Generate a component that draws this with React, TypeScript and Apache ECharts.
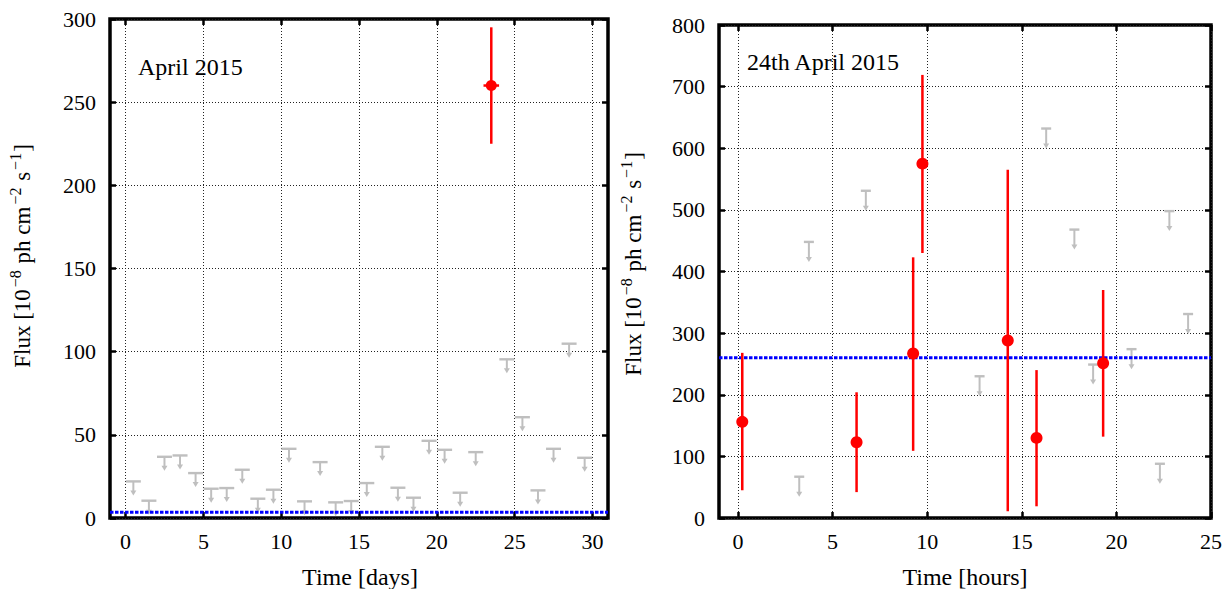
import React, { useEffect, useRef } from "react";
import * as echarts from "echarts";

// ---------- data: left panel (April 2015, days) ----------
const monthULTime = [0.5, 1.5, 2.5, 3.5, 4.5, 5.5, 6.5, 7.5, 8.5, 9.5, 10.5, 11.5, 12.5, 13.5, 14.5, 15.5, 16.5, 17.5, 18.5, 19.5, 20.5, 21.5, 22.5, 24.5, 25.5, 26.5, 27.5, 28.5, 29.5];
const monthULFlux = [22, 10.4, 36.8, 37.6, 27, 17.6, 18, 29, 11.6, 17, 41.6, 10, 33.6, 9.4, 10.2, 21, 42.8, 18.2, 12.2, 46.4, 41, 15.2, 39.6, 95.4, 60.6, 16.6, 41.6, 104.8, 36.2];
const monthDetTime = [23.5];
const monthDetFlux = [260];
const monthDetLo = [225];
const monthDetHi = [295];
const monthDetHalfWidth = [0.5];
const monthMean = 3.5;

// ---------- data: right panel (24th April 2015, hours) ----------
const dayULTime = [3.24, 3.75, 6.76, 12.77, 16.29, 17.78, 18.77, 20.8, 22.3, 22.8, 23.79];
const dayULFlux = [67, 448, 531, 230, 632, 468, 249, 274, 88, 498, 331];
const dayDetTime = [0.23, 6.27, 9.26, 9.75, 14.26, 15.78, 19.3];
const dayDetFlux = [156, 123, 267, 575, 288, 130, 251];
const dayDetLo = [45, 42, 109, 430, 11, 19, 132];
const dayDetHi = [268, 204, 423, 719, 565, 240, 370];
const dayMean = 260;

// ---------- tick labels ----------
const monthXTicks = [0, 5, 10, 15, 20, 25, 30];
const dayXTicks = [0, 5, 10, 15, 20, 25];

const FONT = "Liberation Serif";
const GREY = "#bfbfbf";
const RED = "#ff0000";
const BLUE = "#0000ff";

function ulRender(w: number, h: number) {
  return (_params: any, api: any) => {
    const p = api.coord([api.value(0), api.value(1)]);
    const x = p[0];
    const y = p[1];
    return {
      type: "group",
      children: [
        { type: "line", shape: { x1: x - w / 2, y1: y, x2: x + w / 2, y2: y }, style: { stroke: GREY, lineWidth: 2.4 } },
        { type: "line", shape: { x1: x, y1: y, x2: x, y2: y + h - 4 }, style: { stroke: GREY, lineWidth: 2 } },
        { type: "polygon", shape: { points: [[x - 3, y + h - 5], [x + 3, y + h - 5], [x, y + h]] }, style: { fill: GREY } },
      ],
    };
  };
}

function errRender(_params: any, api: any) {
  const t = api.value(0);
  const f = api.value(1);
  const lo = api.coord([t, api.value(2)]);
  const hi = api.coord([t, api.value(3)]);
  const dt = api.value(4);
  const children: any[] = [
    { type: "line", shape: { x1: lo[0], y1: lo[1], x2: hi[0], y2: hi[1] }, style: { stroke: RED, lineWidth: 2.5 } },
  ];
  if (dt > 0) {
    const a = api.coord([t - dt, f]);
    const b = api.coord([t + dt, f]);
    children.push({ type: "line", shape: { x1: a[0], y1: a[1], x2: b[0], y2: b[1] }, style: { stroke: RED, lineWidth: 2.5 } });
  }
  return { type: "group", children };
}

const labelStyle = { color: "#000", fontFamily: FONT, fontSize: 22, fontWeight: "normal" as const };

function xAxes(gridIndex: number, min: number, max: number, ticks: number[]) {
  const tickStyle = { show: true, inside: true, length: 6, lineStyle: { color: "#000", width: 2.5 }, customValues: ticks };
  return [
    {
      type: "value", gridIndex, min, max, position: "bottom",
      axisLine: { show: false, onZero: false },
      axisTick: tickStyle,
      axisLabel: {
        ...labelStyle, customValues: ticks, margin: 12,
        formatter: (v: number) => (ticks.indexOf(v) >= 0 ? String(v) : ""),
      },
      splitLine: { show: true, lineStyle: { color: "#222", width: 1, type: [1, 2] } },
    },
    {
      type: "value", gridIndex, min, max, position: "top",
      axisLine: { show: false, onZero: false },
      axisTick: tickStyle,
      axisLabel: { show: false, customValues: ticks },
      splitLine: { show: false },
    },
  ];
}

function yAxes(gridIndex: number, max: number, interval: number) {
  const tickStyle = { show: true, inside: true, length: 6, lineStyle: { color: "#000", width: 2.5 } };
  return [
    {
      type: "value", gridIndex, min: 0, max, interval, position: "left",
      axisLine: { show: false, onZero: false },
      axisTick: tickStyle,
      axisLabel: { ...labelStyle, margin: 14 },
      splitLine: { show: true, lineStyle: { color: "#222", width: 1, type: [1, 2] } },
    },
    {
      type: "value", gridIndex, min: 0, max, interval, position: "right",
      axisLine: { show: false, onZero: false },
      axisTick: tickStyle,
      axisLabel: { show: false },
      splitLine: { show: false },
    },
  ];
}

const yTitle = "{a|Flux [10}{s|\u22128}{a| ph cm}{s|\u22122}{a| s}{s|\u22121}{a|]}";
const yTitleRich = {
  a: { fontSize: 23, fontFamily: FONT, fill: "#000", color: "#000", lineHeight: 30 },
  s: { fontSize: 16, fontFamily: FONT, fill: "#000", color: "#000", lineHeight: 16, verticalAlign: "top", padding: [0, 1, 0, 2] },
};

function txt(x: number, y: number, text: string, align: string) {
  return {
    type: "text", x, y,
    style: {
      text, font: "24px 'Liberation Serif'", fontFamily: FONT, fontSize: 24, fill: "#000",
      textAlign: align, align, textVerticalAlign: "middle", verticalAlign: "middle",
    },
  };
}

export default function App() {
  const ref = useRef<HTMLDivElement>(null);
  useEffect(() => {
    if (!ref.current) return;
    const chart = echarts.init(ref.current, undefined, { renderer: "svg" });
    const monthUL = monthULTime.map((t, i) => [t, monthULFlux[i]]);
    const dayUL = dayULTime.map((t, i) => [t, dayULFlux[i]]);
    const monthErr = monthDetTime.map((t, i) => [t, monthDetFlux[i], monthDetLo[i], monthDetHi[i], monthDetHalfWidth[i]]);
    const dayErr = dayDetTime.map((t, i) => [t, dayDetFlux[i], dayDetLo[i], dayDetHi[i], 0]);

    chart.setOption({
      animation: false,
      backgroundColor: "#fff",
      textStyle: { fontFamily: FONT },
      grid: [
        { left: 110, right: 619, top: 19, bottom: 71, show: true, borderColor: "#000", borderWidth: 3.5, backgroundColor: "transparent" },
        { left: 719, right: 16, top: 25, bottom: 71, show: true, borderColor: "#000", borderWidth: 3.5, backgroundColor: "transparent" },
      ],
      xAxis: [...xAxes(0, -1, 31, monthXTicks), ...xAxes(1, -1, 25, dayXTicks)],
      yAxis: [...yAxes(0, 300, 50), ...yAxes(1, 800, 100)],
      graphic: [
        txt(138, 67, "April 2015", "left"),
        txt(747, 62, "24th April 2015", "left"),
        txt(360, 577, "Time [days]", "center"),
        txt(965, 577, "Time [hours]", "center"),
        { type: "text", x: 22, y: 256, rotation: Math.PI / 2, style: { text: yTitle, rich: yTitleRich, textAlign: "center", align: "center", textVerticalAlign: "middle", verticalAlign: "middle" } },
        { type: "text", x: 633, y: 264, rotation: Math.PI / 2, style: { text: yTitle, rich: yTitleRich, textAlign: "center", align: "center", textVerticalAlign: "middle", verticalAlign: "middle" } },
      ],
      series: [
        {
          type: "line", xAxisIndex: 0, yAxisIndex: 0, data: [[-1, monthMean], [31, monthMean]],
          showSymbol: false, symbol: "none", lineStyle: { color: BLUE, width: 3, type: [3.5, 1.5] }, z: 3,
        },
        { type: "custom", xAxisIndex: 0, yAxisIndex: 0, data: monthUL, renderItem: ulRender(15, 14), z: 2 },
        { type: "custom", xAxisIndex: 0, yAxisIndex: 0, data: monthErr, renderItem: errRender, z: 4 },
        {
          type: "scatter", xAxisIndex: 0, yAxisIndex: 0, data: monthDetTime.map((t, i) => [t, monthDetFlux[i]]),
          symbol: "circle", symbolSize: 11, itemStyle: { color: RED, opacity: 1 }, z: 5,
        },
        {
          type: "line", xAxisIndex: 2, yAxisIndex: 2, data: [[-1, dayMean], [25, dayMean]],
          showSymbol: false, symbol: "none", lineStyle: { color: BLUE, width: 3, type: [3.5, 1.5] }, z: 3,
        },
        { type: "custom", xAxisIndex: 2, yAxisIndex: 2, data: dayUL, renderItem: ulRender(10, 20), z: 2 },
        { type: "custom", xAxisIndex: 2, yAxisIndex: 2, data: dayErr, renderItem: errRender, z: 4 },
        {
          type: "scatter", xAxisIndex: 2, yAxisIndex: 2, data: dayDetTime.map((t, i) => [t, dayDetFlux[i]]),
          symbol: "circle", symbolSize: 12, itemStyle: { color: RED, opacity: 1 }, z: 5,
        },
      ],
    });
    return () => chart.dispose();
  }, []);
  return <div ref={ref} style={{ position: "fixed", left: 0, top: 0, width: 1227, height: 589 }} />;
}
